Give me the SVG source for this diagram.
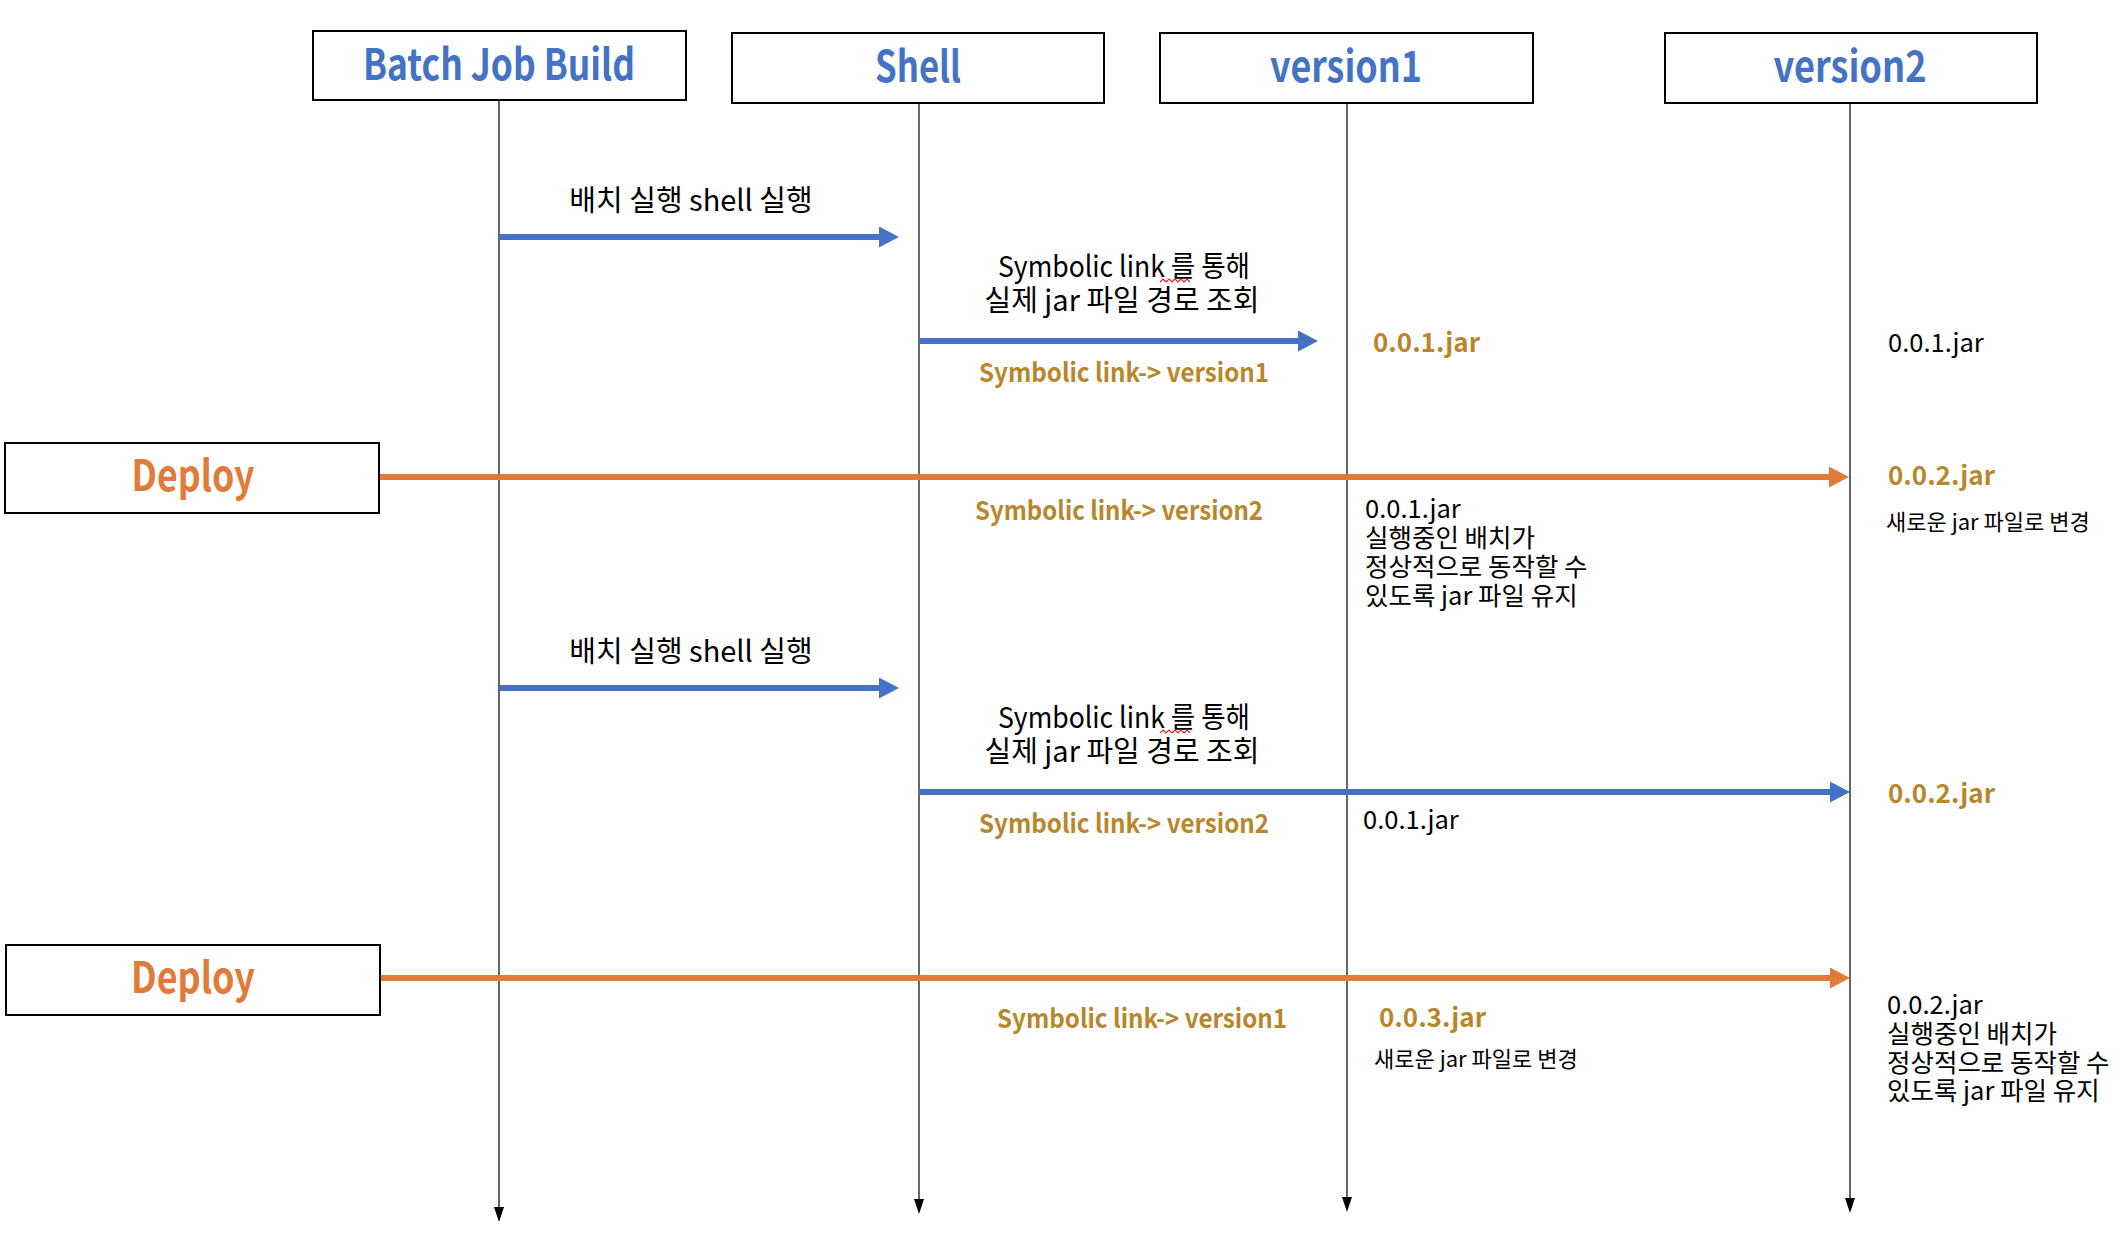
<svg xmlns="http://www.w3.org/2000/svg" width="2122" height="1236" viewBox="0 0 2122 1236">
<style>
.box{fill:#fff;stroke:#000;stroke-width:2}
.hdr{font-family:"Noto Sans CJK KR","Liberation Sans",sans-serif;font-weight:700;font-size:43px;fill:#4472C4;text-anchor:middle}
.dep{font-family:"Noto Sans CJK KR","Liberation Sans",sans-serif;font-weight:700;font-size:43px;fill:#E07B39;text-anchor:middle}
.life{stroke:#000;stroke-width:1.2;fill:none}
.blue{stroke:#4472C4;stroke-width:6;fill:none}
.orange{stroke:#E07B39;stroke-width:6;fill:none}
.msg{font-family:"Noto Sans CJK KR","Liberation Sans",sans-serif;font-size:29px;fill:#000;text-anchor:middle}
.gold{font-family:"Noto Sans CJK KR","Liberation Sans",sans-serif;font-weight:700;font-size:26px;fill:#B8862B}
.goldc{text-anchor:middle}
.note{font-family:"Noto Sans CJK KR","Liberation Sans",sans-serif;font-size:25.5px;fill:#000}
.small{font-family:"Noto Sans CJK KR","Liberation Sans",sans-serif;font-size:22px;fill:#000}
.squig{stroke:#E02020;stroke-width:1.2;fill:none}
</style>
<defs>
<marker id="hb" markerUnits="userSpaceOnUse" markerWidth="22" markerHeight="22" refX="1" refY="10.5" orient="auto"><path d="M0,0 L20,10.5 L0,21 z" fill="#4472C4"/></marker>
<marker id="ho" markerUnits="userSpaceOnUse" markerWidth="22" markerHeight="22" refX="1" refY="10.5" orient="auto"><path d="M0,0 L20,10.5 L0,21 z" fill="#E07B39"/></marker>
<marker id="hk" markerUnits="userSpaceOnUse" markerWidth="16" markerHeight="12" refX="0" refY="5" orient="auto"><path d="M0,0 L15,5 L0,10 z" fill="#000"/></marker>
</defs>

<g id="connectors">
<line class="life" x1="499" y1="100" x2="499" y2="1207" marker-end="url(#hk)"/>
<line class="life" x1="919" y1="103" x2="919" y2="1199" marker-end="url(#hk)"/>
<line class="life" x1="1347" y1="103" x2="1347" y2="1197" marker-end="url(#hk)"/>
<line class="life" x1="1850" y1="103" x2="1850" y2="1198" marker-end="url(#hk)"/>
<line class="blue" x1="500" y1="237" x2="880" y2="237" marker-end="url(#hb)"/>
<line class="blue" x1="919" y1="341" x2="1299" y2="341" marker-end="url(#hb)"/>
<line class="orange" x1="380" y1="477" x2="1830" y2="477" marker-end="url(#ho)"/>
<line class="blue" x1="500" y1="688" x2="880" y2="688" marker-end="url(#hb)"/>
<line class="blue" x1="919" y1="792" x2="1831" y2="792" marker-end="url(#hb)"/>
<line class="orange" x1="380" y1="978" x2="1831" y2="978" marker-end="url(#ho)"/>
</g>

<g id="node-batch"><rect class="box" x="313" y="31" width="373" height="69"/><text class="hdr" x="499" y="80" textLength="272" lengthAdjust="spacingAndGlyphs">Batch Job Build</text></g>
<g id="node-shell"><rect class="box" x="732" y="33" width="372" height="70"/><text class="hdr" x="918" y="82" textLength="86" lengthAdjust="spacingAndGlyphs">Shell</text></g>
<g id="node-version1"><rect class="box" x="1160" y="33" width="373" height="70"/><text class="hdr" x="1346" y="82" textLength="152" lengthAdjust="spacingAndGlyphs">version1</text></g>
<g id="node-version2"><rect class="box" x="1665" y="33" width="372" height="70"/><text class="hdr" x="1850" y="82" textLength="153" lengthAdjust="spacingAndGlyphs">version2</text></g>
<g id="node-deploy1"><rect class="box" x="5" y="443" width="374" height="70"/><text class="dep" x="193" y="491" textLength="123" lengthAdjust="spacingAndGlyphs">Deploy</text></g>
<g id="node-deploy2"><rect class="box" x="6" y="945" width="374" height="70"/><text class="dep" x="193" y="993" textLength="124" lengthAdjust="spacingAndGlyphs">Deploy</text></g>

<g id="labels">
<text class="msg" x="691" y="211">배치 실행 shell 실행</text>
<text class="msg" x="1124" y="277" textLength="252" lengthAdjust="spacingAndGlyphs">Symbolic link 를 통해</text>
<polyline class="squig" points="1160,282 1163,279 1166,282 1169,279 1172,282 1175,279 1178,282 1181,279 1184,282 1187,279 1190,282"/>
<text class="msg" x="1122" y="311">실제 jar 파일 경로 조회</text>
<text class="gold goldc" x="1124" y="382" textLength="290" lengthAdjust="spacingAndGlyphs">Symbolic link-&gt; version1</text>
<text class="gold" x="1373" y="352">0.0.1.jar</text>
<text class="note" x="1888" y="352">0.0.1.jar</text>
<text class="gold" x="1888" y="485">0.0.2.jar</text>
<text class="small" x="1886" y="530">새로운 jar 파일로 변경</text>
<text class="gold goldc" x="1119" y="520" textLength="288" lengthAdjust="spacingAndGlyphs">Symbolic link-&gt; version2</text>
<text class="note" x="1365" y="518">0.0.1.jar</text>
<text class="note" x="1365" y="547">실행중인 배치가</text>
<text class="note" x="1365" y="576">정상적으로 동작할 수</text>
<text class="note" x="1365" y="605">있도록 jar 파일 유지</text>

<text class="msg" x="691" y="662">배치 실행 shell 실행</text>
<text class="msg" x="1124" y="728" textLength="252" lengthAdjust="spacingAndGlyphs">Symbolic link 를 통해</text>
<polyline class="squig" points="1160,733 1163,730 1166,733 1169,730 1172,733 1175,730 1178,733 1181,730 1184,733 1187,730 1190,733"/>
<text class="msg" x="1122" y="762">실제 jar 파일 경로 조회</text>
<text class="gold goldc" x="1124" y="833" textLength="290" lengthAdjust="spacingAndGlyphs">Symbolic link-&gt; version2</text>
<text class="gold" x="1888" y="803">0.0.2.jar</text>
<text class="note" x="1363" y="829">0.0.1.jar</text>

<text class="gold goldc" x="1142" y="1028" textLength="290" lengthAdjust="spacingAndGlyphs">Symbolic link-&gt; version1</text>
<text class="gold" x="1379" y="1027">0.0.3.jar</text>
<text class="small" x="1374" y="1067">새로운 jar 파일로 변경</text>
<text class="note" x="1887" y="1014">0.0.2.jar</text>
<text class="note" x="1887" y="1043">실행중인 배치가</text>
<text class="note" x="1887" y="1072">정상적으로 동작할 수</text>
<text class="note" x="1887" y="1100">있도록 jar 파일 유지</text>
</g>
</svg>
